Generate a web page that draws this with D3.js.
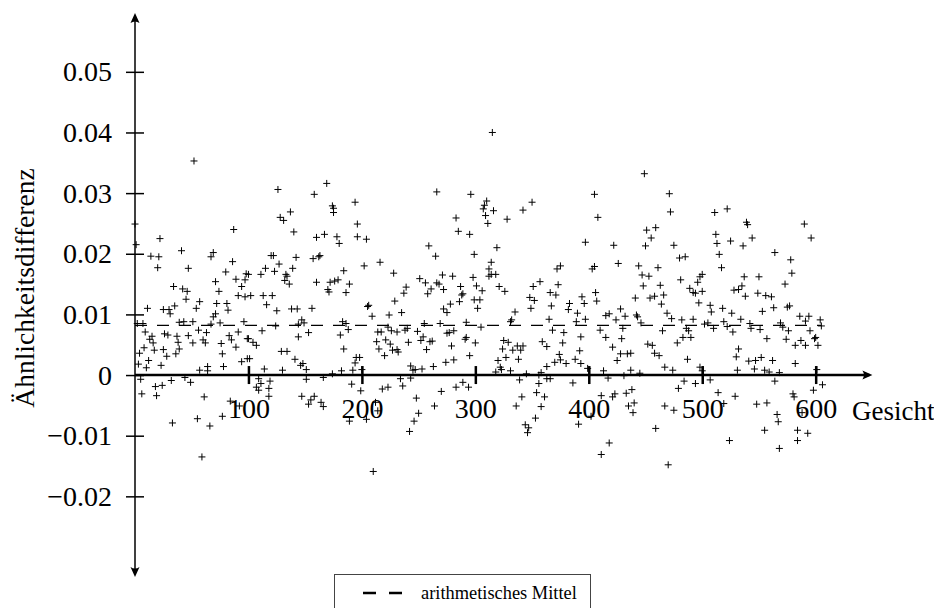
<!DOCTYPE html>
<html lang="de">
<head>
<meta charset="UTF-8">
<title>Ähnlichkeitsdifferenz je Gesicht</title>
<script src="https://cdn.jsdelivr.net/npm/d3@7"></script>
<style>
  body { margin: 0; background: #fff; }
  svg { display: block; font-family: "Liberation Serif", "DejaVu Serif", serif; }
</style>
</head>
<body>
<svg id="svg"></svg>
<script>
// [Gesicht, Ähnlichkeitsdifferenz] in blocks of 100 faces
const faces0to99 = [[0,.0249],[1,.0215],[2,.0085],[3,.0018],[4,.0036],[5,-.0007],[6,-.0031],[7,.0085],[8,.0045],[9,.0071],[10,.0012],[11,.0110],[12,.0024],[13,.0059],[14,.0196],[15,.0064],[16,.0053],[17,.0041],[18,-.0019],[19,-.0034],[20,.0177],[21,.0195],[22,.0225],[23,.0016],[24,-.0017],[25,.0108],[25,.0042],[26,.0068],[28,.0031],[29,.0066],[30,.0108],[31,.0101],[32,-.0009],[33,-.0079],[34,.0146],[35,.0114],[36,.0035],[37,.0064],[38,.0054],[39,.0087],[39,.0043],[41,.0205],[42,.0142],[43,.0088],[44,-.0004],[45,.0125],[46,.0138],[47,.0176],[47,.0065],[49,-.0012],[51,.0088],[51,.0053],[52,.0353],[54,.0110],[55,-.0072],[56,.0074],[57,.0121],[57,.0008],[59,-.0135],[60,.0058],[61,-.0036],[62,.0053],[63,.0070],[64,.0014],[64,.0007],[66,-.0084],[67,.0195],[67,.0084],[69,.0202],[69,.0096],[71,.0154],[71,.0101],[72,.0118],[74,.0138],[75,.0086],[76,.0052],[77,.0035],[77,-.0068],[78,.0014],[80,.0170],[81,.0118],[82,.0107],[83,.0065],[84,-.0043],[85,.0058],[86,.0187],[87,.0240],[89,.0158],[89,.0046],[91,.0131],[91,.0071],[92,-.0051],[94,.0146],[94,.0022],[96,.0088],[97,.0157],[97,.0129],[98,.0167],[99,.0060],[99,.0027]];
const faces100to199 = [[100,.0166],[100,.0060],[101,.0027],[102,.0131],[104,.0054],[107,.0049],[107,-.0020],[109,-.0006],[109,-.0025],[111,.0166],[111,-.0014],[112,.0073],[113,.0131],[114,.0010],[115,.0176],[116,.0116],[118,-.0022],[118,-.0035],[119,-.0010],[120,.0197],[121,.0131],[122,.0197],[123,.0171],[124,.0081],[125,.0106],[126,.0306],[127,.0183],[128,.0260],[129,.0039],[130,.0008],[131,.0255],[132,.0156],[133,.0166],[134,.0163],[134,.0039],[136,.0150],[137,.0269],[138,.0109],[139,.0176],[140,.0236],[141,.0026],[142,.0194],[143,.0109],[144,.0084],[144,.0063],[146,.0016],[147,.0091],[147,-.0035],[148,.0019],[149,.0086],[151,.0009],[151,-.0007],[153,.0070],[153,-.0048],[155,-.0041],[156,.0110],[157,.0192],[158,.0298],[158,-.0035],[160,.0227],[160,.0153],[162,.0195],[163,.0197],[164,-.0045],[166,-.0004],[166,-.0052],[167,.0232],[169,.0316],[170,.0141],[171,.0137],[172,.0153],[174,.0279],[174,.0002],[175,.0275],[175,.0268],[176,.0155],[178,.0228],[179,.0157],[180,.0217],[181,.0066],[182,.0007],[183,.0088],[184,.0172],[184,.0043],[186,.0085],[186,.0136],[188,.0075],[189,.0150],[189,-.0076],[191,-.0015],[192,.0008],[194,.0285],[194,.0020],[195,.0029],[196,.0249],[196,.0228],[198,.0029],[199,-.0026]];
const faces200to299 = [[200,.0009],[202,.0180],[204,.0224],[204,-.0073],[205,.0113],[206,.0115],[209,.0097],[210,-.0159],[212,-.0045],[213,.0055],[214,.0071],[214,-.0059],[215,.0043],[216,.0186],[217,.0071],[218,-.0023],[220,.0032],[221,.0058],[223,.0079],[223,-.0020],[224,.0099],[225,.0051],[226,.0073],[227,.0041],[228,.0168],[229,.0122],[231,.0071],[231,.0042],[232,.0038],[234,-.0006],[235,.0103],[236,-.0018],[237,.0135],[238,.0074],[239,.0145],[240,.0077],[241,.0054],[242,-.0093],[243,.0015],[243,-.0005],[245,.0008],[246,-.0076],[247,.0009],[248,-.0038],[249,.0072],[250,-.0063],[251,.0159],[252,.0057],[253,.0010],[254,.0063],[255,.0085],[256,.0152],[257,.0042],[258,.0134],[259,.0213],[260,.0055],[261,.0142],[262,.0056],[263,.0014],[264,-.0051],[265,.0196],[266,.0302],[266,.0152],[268,.0150],[269,.0085],[270,-.0027],[271,.0165],[272,.0141],[272,.0109],[274,.0021],[275,.0103],[275,.0069],[277,.0070],[278,.0117],[279,.0048],[280,.0163],[281,.0073],[281,.0025],[283,.0259],[283,-.0020],[285,.0237],[286,.0121],[287,.0146],[288,.0132],[289,.0134],[289,-.0012],[291,.0059],[292,.0087],[292,.0062],[294,-.0020],[295,.0232],[295,.0032],[296,.0298],[298,.0161],[299,.0199],[299,.0124]];
const faces300to399 = [[300,.0053],[301,.0147],[302,.0110],[304,.0124],[305,.0079],[306,.0139],[307,.0274],[308,.0280],[309,.0263],[310,.0287],[311,.0250],[312,.0175],[312,.0163],[314,.0186],[314,.0166],[315,.0400],[316,.0271],[318,.0166],[318,.0005],[319,.0210],[320,.0024],[321,.0146],[322,.0013],[323,.0009],[324,.0043],[325,.0057],[326,.0138],[327,.0029],[328,.0257],[329,.0054],[331,.0088],[331,.0007],[332,.0091],[333,.0041],[335,.0104],[336,-.0051],[337,.0048],[338,.0026],[339,-.0008],[340,.0041],[341,-.0036],[342,.0272],[342,.0048],[344,-.0082],[345,.0002],[346,-.0095],[347,-.0087],[348,.0128],[349,.0110],[350,.0285],[351,.0146],[352,.0123],[353,-.0071],[354,-.0029],[356,.0000],[356,-.0014],[357,.0154],[358,.0004],[358,-.0052],[359,.0055],[361,-.0036],[363,.0047],[363,.0014],[363,-.0006],[365,.0092],[366,.0136],[366,-.0006],[367,.0114],[368,.0074],[370,.0021],[371,.0132],[372,.0175],[373,.0149],[374,.0034],[375,.0180],[375,.0025],[377,.0053],[378,.0070],[380,.0019],[382,.0108],[383,.0118],[386,-.0013],[388,.0026],[389,.0088],[390,.0102],[391,-.0081],[392,.0040],[393,.0063],[393,.0019],[394,.0129],[396,.0118],[397,.0219],[397,.0092],[399,.0011]];
const faces400to499 = [[402,-.0068],[403,.0175],[405,.0298],[405,.0179],[406,.0136],[407,.0122],[408,.0260],[410,.0074],[411,-.0034],[411,-.0131],[413,.0007],[415,.0098],[415,.0062],[417,-.0005],[418,.0101],[418,-.0112],[421,.0046],[421,-.0036],[422,.0214],[423,-.0031],[424,.0091],[425,.0024],[426,.0184],[428,.0109],[428,.0035],[429,.0060],[430,.0077],[431,-.0001],[432,.0097],[433,-.0030],[434,.0035],[435,-.0051],[437,.0036],[437,.0008],[438,-.0024],[439,-.0062],[440,-.0046],[441,.0127],[442,.0099],[443,.0096],[444,.0180],[445,.0003],[446,.0086],[447,.0165],[448,.0147],[449,.0332],[450,.0213],[451,.0239],[452,.0051],[453,.0163],[454,.0127],[455,.0226],[456,.0049],[458,.0130],[458,.0036],[459,.0243],[459,-.0088],[461,.0177],[462,.0032],[463,.0148],[464,.0117],[465,.0073],[466,.0132],[467,.0013],[467,-.0051],[469,.0102],[470,-.0148],[471,.0299],[472,.0269],[473,.0093],[474,.0008],[475,.0214],[475,-.0058],[478,.0053],[479,-.0022],[480,.0193],[481,.0157],[482,.0091],[483,.0062],[484,-.0010],[485,.0195],[486,.0077],[487,.0026],[488,.0073],[489,.0143],[490,.0062],[492,.0136],[492,.0092],[494,.0135],[494,-.0014],[496,.0153],[497,.0119],[498,.0162],[498,.0013]];
const faces500to606 = [[500,.0138],[500,.0166],[500,.0007],[502,.0084],[505,.0086],[507,.0115],[507,-.0008],[508,.0104],[510,.0077],[511,.0268],[512,.0232],[513,.0217],[514,-.0029],[515,.0199],[517,.0177],[518,.0110],[519,.0088],[519,-.0047],[522,.0274],[522,.0080],[524,-.0108],[525,.0221],[526,.0102],[527,.0071],[528,.0140],[529,-.0035],[530,.0030],[531,.0008],[532,.0141],[532,.0043],[534,.0092],[535,.0147],[536,.0213],[537,.0162],[538,.0130],[539,.0252],[540,.0248],[541,.0023],[542,.0085],[543,.0077],[544,.0226],[546,.0010],[547,.0024],[548,-.0048],[549,.0135],[550,.0162],[551,.0075],[552,.0029],[553,.0105],[555,.0008],[555,-.0091],[556,.0131],[557,.0060],[557,-.0046],[559,.0005],[561,.0129],[562,.0024],[563,.0111],[564,.0202],[564,-.0010],[566,-.0065],[567,-.0077],[568,.0004],[568,-.0121],[569,.0086],[571,.0079],[573,.0150],[574,.0059],[575,.0112],[576,.0073],[577,.0114],[578,.0190],[579,.0168],[580,-.0031],[581,-.0036],[582,.0049],[582,.0019],[584,-.0091],[584,-.0108],[586,.0097],[587,.0057],[588,-.0062],[590,.0249],[591,.0089],[591,.0049],[593,-.0096],[594,.0097],[595,.0073],[596,.0226],[598,-.0025],[599,.0060],[600,.0062],[601,.0009],[602,.0049],[604,.0091],[605,.0081],[606,-.0016]];

const meanDiff = 0.0082;          // arithmetisches Mittel
const meanRange = [0, 605];
const xTicks = [100, 200, 300, 400, 500, 600];
const yTicks = [-0.02, -0.01, 0, 0.01, 0.02, 0.03, 0.04, 0.05];
const xLabel = "Gesicht";
const yLabel = "Ähnlichkeitsdifferenz";
const legendLabel = "arithmetisches Mittel";

const points = [].concat(faces0to99, faces100to199, faces200to299,
  faces300to399, faces400to499, faces500to606);

const width = 934, height = 608;
const x = d3.scaleLinear().domain([0, 650]).range([135, 872.4]);
const y = d3.scaleLinear().domain([-0.0333, 0.0597]).range([577, 13]);

const svg = d3.select("#svg").attr("width", width).attr("height", height);

// y axis
const yAxis = svg.append("g")
  .attr("transform", `translate(${x(0)},0)`)
  .attr("font-family", null).attr("font-size", null)
  .call(d3.axisLeft(y).tickValues(yTicks).tickSize(9).tickPadding(14)
    .tickFormat(d => d === 0 ? "0" : d3.format(".2f")(d)));
yAxis.attr("font-family", "Liberation Serif").attr("font-size", 28);
yAxis.select(".domain").remove();
yAxis.selectAll(".tick line").attr("x1", -9).attr("x2", 9).attr("stroke-width", 1.5);
yAxis.selectAll(".tick text").attr("fill", "#000");

// x axis
const xAxis = svg.append("g")
  .attr("transform", `translate(0,${y(0)})`)
  .call(d3.axisBottom(x).tickValues(xTicks).tickSize(9));
xAxis.attr("font-family", "Liberation Serif").attr("font-size", 28);
xAxis.select(".domain").remove();
xAxis.selectAll(".tick line").attr("y1", -9).attr("y2", 9).attr("stroke-width", 2.5);
xAxis.selectAll(".tick text").attr("y", 43).attr("dy", 0).attr("fill", "#000");

// axis lines with arrow heads
function arrowHead(px, py, angle) {
  svg.append("path")
    .attr("d", "M0,0 L-10,-4.5 Q-7,0 -10,4.5 Z")
    .attr("transform", `translate(${px},${py}) rotate(${angle})`)
    .attr("fill", "#000");
}
svg.append("line").attr("x1", x(0)).attr("x2", x(0)).attr("y1", y.range()[0] - 3).attr("y2", y.range()[1] + 3)
  .attr("stroke", "#000").attr("stroke-width", 1.5);
arrowHead(x(0), y.range()[1], -90);
arrowHead(x(0), y.range()[0], 90);
svg.append("line").attr("x1", x(0)).attr("x2", x.range()[1] - 3).attr("y1", y(0)).attr("y2", y(0))
  .attr("stroke", "#000").attr("stroke-width", 2.5);
arrowHead(x.range()[1], y(0), 0);

// mean line
svg.append("line")
  .attr("x1", x(meanRange[0])).attr("x2", x(meanRange[1]))
  .attr("y1", y(meanDiff)).attr("y2", y(meanDiff))
  .attr("stroke", "#000").attr("stroke-width", 1.2).attr("stroke-dasharray", "12,10");

// points as plus marks
svg.append("g").selectAll("path")
  .data(points)
  .enter()
  .append("path")
  .attr("transform", d => `translate(${x(d[0])},${y(d[1])})`)
  .attr("d", "M-3.5,0H3.5M0,-3.5V3.5")
  .attr("stroke", "#000")
  .attr("stroke-width", 1)
  .attr("fill", "none");

// axis labels
svg.append("text")
  .attr("x", 852).attr("y", 420)
  .attr("font-size", 27)
  .text(xLabel);
svg.append("text")
  .attr("transform", "translate(34,288) rotate(-90)")
  .attr("text-anchor", "middle")
  .attr("font-size", 27.5)
  .text(yLabel);

// legend
const legend = svg.append("g");
legend.append("rect")
  .attr("x", 334.5).attr("y", 574.5).attr("width", 256).attr("height", 50)
  .attr("fill", "#fff").attr("stroke", "#444").attr("stroke-width", 1);
legend.append("line")
  .attr("x1", 363).attr("x2", 402).attr("y1", 593).attr("y2", 593)
  .attr("stroke", "#000").attr("stroke-width", 2.5).attr("stroke-dasharray", "13,13");
legend.append("text")
  .attr("x", 421).attr("y", 599)
  .attr("font-size", 18.4)
  .text(legendLabel);
</script>
</body>
</html>
